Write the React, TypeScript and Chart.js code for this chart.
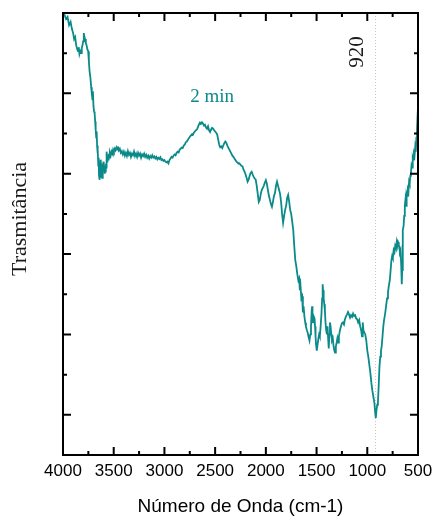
import React, { useEffect, useRef } from "react";
import { Chart, registerables } from "chart.js";

Chart.register(...registerables);

// FTIR spectrum, 2 min sample
const wavenumbers = [
  4000, 3985, 3970, 3955, 3940, 3925, 3912, 3900, 3890, 3880, 3870, 3860, 3852, 3845, 3838, 3830, 3822, 3815, 3808, 3800,
  3795, 3790, 3783, 3775, 3768, 3760, 3752, 3745, 3738, 3730, 3722, 3716, 3710, 3705, 3700, 3694, 3688, 3683, 3678, 3672,
  3668, 3664, 3660, 3656, 3652, 3648, 3645, 3641, 3637, 3633, 3630, 3626, 3622, 3618, 3614, 3610, 3606, 3602, 3598, 3594,
  3590, 3586, 3582, 3578, 3574, 3570, 3566, 3562, 3556, 3550, 3544, 3538, 3530, 3522, 3514, 3506, 3498, 3490, 3482, 3474,
  3466, 3458, 3450, 3440, 3430, 3420, 3410, 3400, 3390, 3380, 3370, 3360, 3350, 3340, 3330, 3320, 3310, 3300, 3290, 3280,
  3270, 3260, 3250, 3240, 3230, 3220, 3210, 3200, 3190, 3180, 3170, 3160, 3150, 3140, 3130, 3120, 3110, 3100, 3090, 3080,
  3070, 3060, 3050, 3040, 3030, 3020, 3010, 3000, 2990, 2980, 2970, 2960, 2950, 2940, 2930, 2920, 2910, 2900, 2890, 2880,
  2870, 2860, 2850, 2840, 2830, 2820, 2810, 2800, 2790, 2780, 2770, 2760, 2750, 2740, 2730, 2720, 2710, 2700, 2690, 2680,
  2670, 2660, 2650, 2640, 2630, 2620, 2610, 2600, 2590, 2580, 2570, 2560, 2550, 2540, 2530, 2520, 2510, 2500, 2490, 2480,
  2470, 2460, 2450, 2440, 2430, 2420, 2410, 2400, 2390, 2380, 2370, 2360, 2350, 2340, 2330, 2320, 2310, 2300, 2290, 2280,
  2270, 2260, 2250, 2240, 2230, 2220, 2210, 2200, 2190, 2180, 2170, 2160, 2150, 2140, 2130, 2120, 2110, 2100, 2090, 2080,
  2070, 2060, 2050, 2040, 2030, 2020, 2010, 2000, 1990, 1980, 1970, 1960, 1950, 1940, 1930, 1920, 1910, 1900, 1890, 1880,
  1870, 1860, 1850, 1840, 1830, 1820, 1810, 1800, 1790, 1780, 1770, 1760, 1750, 1740, 1730, 1720, 1710, 1700, 1690, 1680,
  1672, 1665, 1658, 1650, 1642, 1635, 1628, 1620, 1612, 1605, 1595, 1588, 1580, 1570, 1562, 1555, 1548, 1544, 1540, 1535,
  1528, 1520, 1515, 1510, 1505, 1498, 1490, 1482, 1475, 1468, 1460, 1452, 1445, 1440, 1436, 1430, 1424, 1418, 1412, 1405,
  1398, 1392, 1386, 1380, 1374, 1368, 1362, 1355, 1348, 1340, 1332, 1325, 1318, 1310, 1302, 1295, 1288, 1280, 1270, 1260,
  1250, 1240, 1230, 1220, 1210, 1200, 1190, 1180, 1170, 1160, 1150, 1140, 1130, 1120, 1110, 1100, 1090, 1080, 1070, 1060,
  1052, 1045, 1038, 1030, 1020, 1010, 1000, 990, 980, 970, 960, 950, 940, 930, 922, 916, 910, 902, 895, 888,
  880, 872, 865, 858, 850, 842, 835, 825, 815, 805, 796, 788, 778, 770, 762, 755, 748, 740, 732, 725,
  718, 710, 704, 697, 690, 684, 678, 672, 665, 660, 656, 652, 648, 642, 636, 630, 624, 618, 612, 606,
  600, 594, 588, 582, 576, 570, 564, 558, 552, 546, 540, 534, 528, 522, 516, 510, 505, 500,
];

const transmittance = [
  11.0, 10.95, 10.85, 10.9, 10.7, 10.78, 10.6, 10.5, 10.35, 10.4, 10.2, 10.1, 10.05, 10.15, 9.98, 10.05, 10.0, 10.12, 10.2, 10.3,
  10.5, 10.42, 10.35, 10.25, 10.2, 10.1, 10.05, 9.8, 9.55, 9.4, 9.15, 9.0, 8.85, 9.05, 8.7, 8.55, 8.5, 8.3, 8.1, 7.9,
  8.05, 7.7, 7.5, 7.6, 7.2, 7.4, 6.95, 7.3, 6.85, 7.2, 6.9, 7.35, 7.0, 7.15, 6.9, 7.25, 7.05, 7.3, 7.1, 7.2,
  7.0, 7.15, 7.05, 7.25, 7.15, 7.55, 7.3, 7.45, 7.35, 7.5, 7.4, 7.52, 7.45, 7.55, 7.5, 7.6, 7.55, 7.62, 7.58, 7.65,
  7.6, 7.68, 7.58, 7.62, 7.52, 7.56, 7.48, 7.55, 7.45, 7.52, 7.44, 7.56, 7.47, 7.52, 7.42, 7.5, 7.46, 7.55, 7.44, 7.5,
  7.42, 7.52, 7.45, 7.5, 7.4, 7.48, 7.44, 7.5, 7.42, 7.47, 7.4, 7.45, 7.38, 7.44, 7.4, 7.46, 7.4, 7.43, 7.38, 7.42,
  7.36, 7.4, 7.37, 7.41, 7.34, 7.36, 7.32, 7.34, 7.3, 7.28, 7.3, 7.26, 7.34, 7.38, 7.42, 7.4, 7.45, 7.48, 7.46, 7.52,
  7.55, 7.53, 7.6, 7.62, 7.65, 7.64, 7.7, 7.72, 7.78, 7.8, 7.84, 7.88, 7.92, 7.95, 7.98, 7.97, 8.02, 8.05, 8.08, 8.1,
  8.16, 8.22, 8.27, 8.24, 8.28, 8.25, 8.2, 8.22, 8.15, 8.12, 8.18, 8.08, 8.04, 8.1, 8.14, 8.12, 8.08, 8.05, 8.02, 7.98,
  7.85, 7.72, 7.66, 7.68, 7.64, 7.7, 7.76, 7.8, 7.77, 7.7, 7.65, 7.6, 7.55, 7.5, 7.45, 7.42, 7.38, 7.34, 7.3, 7.28,
  7.25, 7.26, 7.22, 7.2, 7.18, 7.1, 7.05, 6.98, 6.9, 6.8, 6.85, 6.95, 7.02, 7.05, 6.98, 6.92, 6.88, 6.85, 6.7, 6.5,
  6.3, 6.35, 6.5, 6.6, 6.65, 6.7, 6.78, 6.84, 6.75, 6.6, 6.45, 6.35, 6.25, 6.18, 6.3, 6.45, 6.52, 6.7, 6.8, 6.7,
  6.6, 6.5, 6.3, 6.0, 5.78, 5.95, 6.1, 6.2, 6.4, 6.47, 6.3, 6.1, 6.0, 5.8, 5.6, 5.2, 4.85, 4.7, 4.5, 4.35,
  4.4, 4.1, 4.2, 3.9, 3.95, 3.55, 3.7, 3.45, 3.3, 3.2, 3.1, 3.05, 2.95, 2.85, 3.0, 3.2, 3.6, 3.7, 3.4, 3.3,
  3.45, 3.4, 3.2, 2.95, 2.75, 2.6, 2.75, 2.9, 3.0, 2.95, 3.2, 3.5, 3.9, 4.25, 4.1, 3.9, 3.75, 3.6, 3.3, 3.1,
  3.0, 3.2, 2.9, 2.65, 3.0, 3.3, 3.2, 3.0, 2.85, 2.9, 2.7, 2.6, 2.55, 2.7, 2.8, 2.9, 2.8, 2.95, 3.1, 3.2,
  3.28, 3.3, 3.25, 3.38, 3.45, 3.5, 3.56, 3.5, 3.42, 3.48, 3.44, 3.52, 3.46, 3.48, 3.4, 3.38, 3.3, 3.36, 3.2, 3.1,
  2.95, 3.3, 3.1, 3.05, 3.0, 2.85, 2.6, 2.45, 2.25, 2.05, 1.8, 1.6, 1.45, 1.3, 1.05, 0.92, 1.1, 1.25, 1.3, 1.7,
  2.2, 2.45, 2.6, 2.7, 2.95, 3.2, 3.35, 3.5, 3.7, 3.9, 4.05, 4.2, 4.35, 4.6, 4.85, 4.95, 4.9, 5.1, 5.05, 5.2,
  5.15, 5.3, 5.2, 5.3, 5.25, 5.15, 5.05, 5.1, 4.7, 4.25, 4.6, 5.1, 5.6, 5.7, 5.95, 6.2, 6.35, 6.2, 6.5, 6.45,
  6.6, 6.55, 6.8, 6.75, 6.95, 7.0, 7.2, 7.15, 7.4, 7.35, 7.5, 7.45, 7.65, 7.55, 7.9, 8.1, 8.4, 8.65,
];

const xTickValues = [4000, 3500, 3000, 2500, 2000, 1500, 1000, 500];
const seriesName = "2 min";
const peakWavenumber = 920;
const peakLabel = "920";
const xTitle = "Número de Onda (cm-1)";
const yTitle = "Trasmitância";

const TEAL = "#0b8a8a";
const SERIF = "'Liberation Serif', 'Times New Roman', serif";
const SANS = "'Liberation Sans', Arial, sans-serif";

const framePlugin = {
  id: "frameAndNotes",
  beforeDatasetsDraw(chart: any) {
    const { ctx, chartArea, scales } = chart;
    const px = Math.round(scales.x.getPixelForValue(peakWavenumber)) + 0.5;
    ctx.save();
    ctx.strokeStyle = "#c8c8c8";
    ctx.lineWidth = 1;
    ctx.setLineDash([1, 2]);
    ctx.beginPath();
    ctx.moveTo(px, chartArea.top);
    ctx.lineTo(px, chartArea.bottom);
    ctx.stroke();
    ctx.restore();
  },
  afterDraw(chart: any) {
    const { ctx, chartArea, scales } = chart;
    const { left, right, top, bottom } = chartArea;
    const x = scales.x;
    const y = scales.y;
    ctx.save();
    ctx.strokeStyle = "#000";
    ctx.lineWidth = 2;
    ctx.strokeRect(left, top, right - left, bottom - top);

    // inward ticks on all four sides
    ctx.beginPath();
    for (let v = x.min; v <= x.max; v += 250) {
      const p = x.getPixelForValue(v);
      const len = v % 500 === 0 ? 8 : 4;
      ctx.moveTo(p, bottom);
      ctx.lineTo(p, bottom - len);
      ctx.moveTo(p, top);
      ctx.lineTo(p, top + len);
    }
    for (let v = y.min + 1; v < y.max; v += 1) {
      const p = y.getPixelForValue(v);
      const len = v % 2 === 1 ? 8 : 4;
      ctx.moveTo(left, p);
      ctx.lineTo(left + len, p);
      ctx.moveTo(right, p);
      ctx.lineTo(right - len, p);
    }
    ctx.stroke();

    // y-axis title
    ctx.fillStyle = "#1a1a1a";
    ctx.font = `22px ${SERIF}`;
    ctx.textAlign = "center";
    ctx.textBaseline = "middle";
    ctx.save();
    ctx.translate(20, 219);
    ctx.rotate(-Math.PI / 2);
    ctx.fillText(yTitle, 0, 0);
    ctx.restore();

    // peak label
    ctx.save();
    ctx.font = `21px ${SERIF}`;
    ctx.translate(x.getPixelForValue(peakWavenumber) - 18, y.getPixelForValue(10.03));
    ctx.rotate(-Math.PI / 2);
    ctx.fillText(peakLabel, 0, 0);
    ctx.restore();

    // series name
    ctx.fillStyle = TEAL;
    ctx.font = `19px ${SERIF}`;
    ctx.fillText(seriesName, x.getPixelForValue(2530), y.getPixelForValue(8.9));
    ctx.restore();
  },
};

export default function App() {
  const canvasRef = useRef<HTMLCanvasElement | null>(null);

  useEffect(() => {
    if (!canvasRef.current) return;
    const points = wavenumbers.map((w, i) => ({ x: w, y: transmittance[i] }));
    const chart = new Chart(canvasRef.current, {
      type: "line",
      data: {
        datasets: [
          {
            label: seriesName,
            data: points,
            borderColor: TEAL,
            borderWidth: 1.8,
            pointRadius: 0,
            tension: 0,
            fill: false,
          },
        ],
      },
      options: {
        responsive: false,
        animation: false,
        devicePixelRatio: 1,
        layout: { padding: { top: 13, right: 16, left: 0, bottom: 0 } },
        plugins: { legend: { display: false }, tooltip: { enabled: false } },
        scales: {
          x: {
            type: "linear",
            reverse: true,
            min: 500,
            max: 4000,
            afterBuildTicks: (scale: any) => {
              scale.ticks = xTickValues.map((v) => ({ value: v }));
            },
            ticks: {
              callback: (v: any) => String(v),
              color: "#000",
              font: { family: SANS, size: 17 },
              padding: 6,
              maxRotation: 0,
              autoSkip: false,
            },
            grid: { display: false, drawTicks: false },
            border: { display: false },
            title: {
              display: true,
              text: xTitle,
              color: "#000",
              font: { family: SANS, size: 19 },
              padding: { top: 0, bottom: 0 },
            },
            afterFit: (scale: any) => {
              scale.height = 63;
              scale.paddingLeft = 0;
              scale.paddingRight = 0;
            },
          },
          y: {
            type: "linear",
            min: 0,
            max: 11,
            ticks: { display: false },
            grid: { display: false, drawTicks: false },
            border: { display: false },
            afterFit: (scale: any) => {
              scale.width = 63;
            },
          },
        },
      },
      plugins: [framePlugin],
    });
    return () => chart.destroy();
  }, []);

  return (
    <div style={{ position: "absolute", left: 0, top: 0, width: 434, height: 518, background: "#fff" }}>
      <canvas ref={canvasRef} width={434} height={518} />
    </div>
  );
}
